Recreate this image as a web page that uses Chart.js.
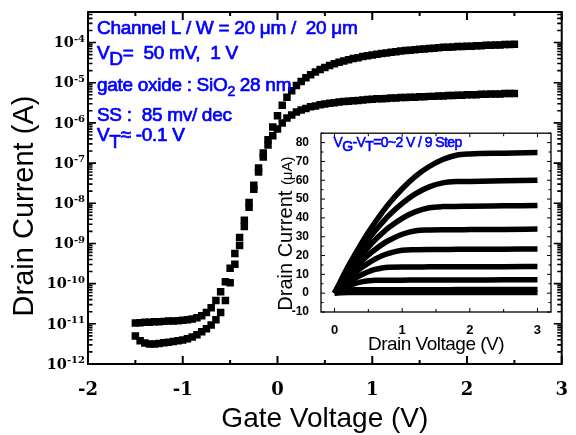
<!DOCTYPE html>
<html><head><meta charset="utf-8">
<script src="https://cdn.jsdelivr.net/npm/chart.js@4.4.1/dist/chart.umd.min.js"></script>
<style>
html,body{margin:0;padding:0;background:#fff;}
#wrap{position:relative;width:576px;height:435px;overflow:hidden;}
#main{position:absolute;left:0;top:0;}
#inset{position:absolute;left:262px;top:122px;}
</style></head><body>
<div id="wrap"><canvas id="main" width="576" height="435"></canvas><canvas id="inset" width="300" height="240"></canvas></div>
<script>
// ---------- main transfer curve data (Gate voltage in V, drain current in A) ----------
const gateVoltage = [-1.5,-1.45,-1.4,-1.35,-1.3,-1.25,-1.2,-1.15,-1.1,-1.05,
  -1,-0.95,-0.9,-0.85,-0.8,-0.75,-0.7,-0.65,-0.6,-0.55,
  -0.5,-0.45,-0.4,-0.35,-0.3,-0.25,-0.2,-0.15,-0.1,-0.05,
  0,0.05,0.1,0.15,0.2,0.25,0.3,0.35,0.4,0.45,
  0.5,0.55,0.6,0.65,0.7,0.75,0.8,0.85,0.9,0.95,
  1,1.05,1.1,1.15,1.2,1.25,1.3,1.35,1.4,1.45,
  1.5,1.55,1.6,1.65,1.7,1.75,1.8,1.85,1.9,1.95,
  2,2.05,2.1,2.15,2.2,2.25,2.3,2.35,2.4,2.45,2.5];
const currentVd1V = [1.05e-11,1.07e-11,1.10e-11,1.10e-11,1.12e-11,1.12e-11,1.15e-11,1.17e-11,1.17e-11,1.20e-11,
  1.23e-11,1.26e-11,1.32e-11,1.41e-11,1.58e-11,1.91e-11,2.51e-11,3.80e-11,6.31e-11,1.12e-10,
  2.40e-10,5.62e-10,1.41e-9,3.80e-9,1.05e-8,2.82e-8,7.59e-8,1.78e-7,3.80e-7,7.94e-7,
  1.51e-6,2.75e-6,4.37e-6,6.31e-6,8.51e-6,1.07e-5,1.32e-5,1.58e-5,1.86e-5,2.14e-5,
  2.40e-5,2.69e-5,2.95e-5,3.24e-5,3.47e-5,3.72e-5,3.98e-5,4.17e-5,4.47e-5,4.68e-5,
  4.90e-5,5.13e-5,5.37e-5,5.50e-5,5.75e-5,5.89e-5,6.17e-5,6.31e-5,6.46e-5,6.61e-5,
  6.76e-5,6.92e-5,7.08e-5,7.24e-5,7.41e-5,7.59e-5,7.59e-5,7.76e-5,7.94e-5,7.94e-5,
  8.13e-5,8.13e-5,8.32e-5,8.32e-5,8.51e-5,8.51e-5,8.71e-5,8.71e-5,8.91e-5,8.91e-5,9.12e-5];
const currentVd50mV = [5.01e-12,3.80e-12,3.31e-12,3.16e-12,3.16e-12,3.24e-12,3.39e-12,3.47e-12,3.63e-12,3.80e-12,
  3.98e-12,4.27e-12,4.68e-12,5.37e-12,6.31e-12,7.59e-12,9.33e-12,1.26e-11,1.91e-11,3.80e-11,
  1.05e-10,3.02e-10,8.91e-10,2.63e-9,7.94e-9,2.24e-8,6.03e-8,1.41e-7,2.82e-7,4.79e-7,
  7.08e-7,1.00e-6,1.32e-6,1.58e-6,1.86e-6,2.09e-6,2.29e-6,2.51e-6,2.63e-6,2.82e-6,
  2.95e-6,3.09e-6,3.16e-6,3.31e-6,3.39e-6,3.47e-6,3.55e-6,3.63e-6,3.72e-6,3.80e-6,
  3.89e-6,3.98e-6,3.98e-6,4.07e-6,4.17e-6,4.17e-6,4.27e-6,4.27e-6,4.37e-6,4.37e-6,
  4.47e-6,4.47e-6,4.57e-6,4.57e-6,4.68e-6,4.68e-6,4.79e-6,4.79e-6,4.90e-6,4.90e-6,
  5.01e-6,5.01e-6,5.01e-6,5.13e-6,5.13e-6,5.25e-6,5.25e-6,5.25e-6,5.37e-6,5.37e-6,5.37e-6];
const mainYDecades = [-12,-11,-10,-9,-8,-7,-6,-5,-4];

// ---------- inset output curve data (Drain voltage in V, drain current in uA) ----------
const drainVoltage = [0,0.1,0.2,0.3,0.4,0.5,0.6,0.7,0.8,1.0,1.2,1.4,1.6,1.8,2.0,2.5,3.0];
const idStep8 = [0,7.2,14.1,20.5,26.6,32.4,37.7,42.7,47.4,55.5,62.2,67.3,71.0,73.3,74.0,74.4,74.7];
const idStep7 = [0,6.4,12.5,18.2,23.5,28.5,33.1,37.3,41.2,47.7,52.9,56.5,58.6,59.3,59.4,59.7,60.0];
const idStep6 = [0,5.6,10.9,15.8,20.3,24.5,28.3,31.7,34.8,39.8,43.3,45.4,46.0,46.1,46.2,46.4,46.6];
const idStep5 = [0,4.8,9.2,13.3,17.0,20.3,23.2,25.8,28.0,31.3,33.2,33.6,33.7,33.7,33.8,33.9,34.1];
const idStep4 = [0,3.9,7.5,10.7,13.6,16.0,18.1,19.9,21.2,22.8,23.1,23.2,23.2,23.3,23.3,23.4,23.5];
const idStep3 = [0,3.0,5.7,7.9,9.8,11.4,12.6,13.4,13.8,13.9,13.9,14.0,14.0,14.0,14.1,14.1,14.2];
const idStep2 = [0,2.0,3.7,5.1,6.0,6.6,6.9,6.9,6.9,6.9,7.0,7.0,7.0,7.0,7.0,7.1,7.1];
const idStep1 = [0,1.0,1.6,1.8,1.8,1.8,1.8,1.8,1.8,1.8,1.8,1.8,1.8,1.9,1.9,1.9,1.9];
const idStep0 = [0,0.2,0.3,0.3,0.3,0.3,0.3,0.3,0.3,0.3,0.3,0.3,0.4,0.4,0.4,0.4,0.4];
const insetCurves = [idStep0,idStep1,idStep2,idStep3,idStep4,idStep5,idStep6,idStep7,idStep8];

const SANS = '"Liberation Sans", Arial, sans-serif';
const SERIF = '"DejaVu Serif", serif';
const BLUE = 'rgb(0,0,255)';

function drawRich(ctx, x, y, parts, color, spacing, stroke) {
  ctx.save();
  ctx.fillStyle = color; ctx.strokeStyle = color;
  ctx.textAlign = 'left'; ctx.textBaseline = 'alphabetic';
  ctx.lineJoin = 'round';
  if (spacing !== undefined) ctx.letterSpacing = spacing;
  for (const p of parts) {
    ctx.font = (p.w || 'normal') + ' ' + p.s + 'px ' + SANS;
    ctx.fillText(p.t, x, y + (p.dy || 0));
    if (stroke) { ctx.lineWidth = stroke; ctx.strokeText(p.t, x, y + (p.dy || 0)); }
    x += ctx.measureText(p.t).width;
  }
  ctx.restore();
}

const mainDecor = {
  id: 'mainDecor',
  afterDraw(chart) {
    const ctx = chart.ctx, a = chart.chartArea, xs = chart.scales.x, ys = chart.scales.y;
    ctx.save();
    ctx.strokeStyle = '#000';
    ctx.lineWidth = 2;
    ctx.strokeRect(a.left, a.top, a.right - a.left, a.bottom - a.top);
    // x ticks (inward, bottom and top)
    ctx.lineWidth = 2;
    ctx.beginPath();
    for (let v = xs.min; v <= xs.max + 1e-9; v += 0.5) {
      const px = xs.getPixelForValue(v);
      const len = Math.abs(v - Math.round(v)) < 1e-6 ? 8 : 4;
      ctx.moveTo(px, a.bottom); ctx.lineTo(px, a.bottom - len);
      ctx.moveTo(px, a.top); ctx.lineTo(px, a.top + len);
    }
    ctx.stroke();
    // y ticks (log, inward, left and right)
    ctx.lineWidth = 1.6;
    ctx.beginPath();
    for (const n of mainYDecades) {
      for (let k = 1; k <= 9; k++) {
        const val = k * Math.pow(10, n);
        if (val > ys.max * 1.0001) break;
        const py = ys.getPixelForValue(val);
        const len = k === 1 ? 8 : 4.5;
        ctx.moveTo(a.left, py); ctx.lineTo(a.left + len, py);
        ctx.moveTo(a.right, py); ctx.lineTo(a.right - len, py);
      }
    }
    ctx.stroke();
    // y tick labels 10^n
    ctx.fillStyle = '#000';
    ctx.textBaseline = 'middle';
    ctx.textAlign = 'left';
    for (const n of mainYDecades) {
      const py = ys.getPixelForValue(Math.pow(10, n));
      const sup = String(n);
      ctx.font = 'bold 10px ' + SERIF;
      const ws = ctx.measureText(sup).width;
      ctx.font = 'bold 14.5px ' + SERIF;
      const wb = ctx.measureText('10').width;
      const xr = a.left - 3;
      ctx.fillText('10', xr - ws - wb, py + 1);
      ctx.font = 'bold 10px ' + SERIF;
      ctx.fillText(sup, xr - ws, py - 3.5);
    }
    // axis titles
    ctx.font = '28px ' + SANS;
    ctx.textAlign = 'center';
    ctx.textBaseline = 'alphabetic';
    ctx.fillText('Gate Voltage (V)', (a.left + a.right) / 2, a.bottom + 63);
    ctx.save();
    ctx.translate(a.left - 55, (a.top + a.bottom) / 2 + 18);
    ctx.rotate(-Math.PI / 2);
    ctx.font = '29px ' + SANS;
    ctx.fillText('Drain Current (A)', 0, 0);
    ctx.restore();
    ctx.restore();
    // annotations
    const x0 = a.left + 9;
    const ls = '-0.3px', sw = 0.7;
    drawRich(ctx, x0, a.top + 22, [{t:'Channel L / W = 20 \u03bcm /  20 \u03bcm', s:19}], BLUE, ls, sw);
    drawRich(ctx, x0, a.top + 46.5, [{t:'V', s:19},{t:'D', s:19, dy:6.5},{t:'=  50 mV,  1 V', s:19}], BLUE, ls, sw);
    drawRich(ctx, x0, a.top + 78.5, [{t:'gate oxide : SiO', s:19},{t:'2', s:14, dy:5},{t:' 28 nm', s:19}], BLUE, ls, sw);
    drawRich(ctx, x0, a.top + 108.5, [{t:'SS :  85 mv/ dec', s:19}], BLUE, ls, sw);
    drawRich(ctx, x0, a.top + 129, [{t:'V', s:19},{t:'T', s:19, dy:7},{t:'\u2248 -0.1 V', s:19}], BLUE, ls, sw);
  }
};

new Chart(document.getElementById('main'), {
  type: 'scatter',
  data: {
    datasets: [
      { label: 'VD = 1 V', data: gateVoltage.map((v, i) => ({x: v, y: currentVd1V[i]})),
        pointStyle: 'rect', pointRadius: 5.3, backgroundColor: '#000', borderColor: '#000', borderWidth: 0 },
      { label: 'VD = 50 mV', data: gateVoltage.map((v, i) => ({x: v, y: currentVd50mV[i]})),
        pointStyle: 'rect', pointRadius: 5.3, backgroundColor: '#000', borderColor: '#000', borderWidth: 0 }
    ]
  },
  options: {
    responsive: false, animation: false, devicePixelRatio: 1,
    layout: { padding: { left: 0, right: 4, top: 12, bottom: 0 } },
    plugins: { legend: { display: false }, tooltip: { enabled: false } },
    scales: {
      x: { type: 'linear', min: -2, max: 3,
        grid: { display: false }, border: { display: false },
        ticks: { stepSize: 1, padding: 8, color: '#000', includeBounds: false,
          font: { family: SERIF, weight: 'bold', size: 18 } },
        afterFit(s) { s.height = 71; } },
      y: { type: 'logarithmic', min: 1e-12, max: 5.75e-4,
        grid: { display: false }, border: { display: false },
        ticks: { display: false },
        afterFit(s) { s.width = 88; } }
    }
  },
  plugins: [mainDecor]
});

const insetDecor = {
  id: 'insetDecor',
  beforeDraw(chart) {
    const ctx = chart.ctx, a = chart.chartArea;
    ctx.save(); ctx.fillStyle = '#fff';
    ctx.fillRect(a.left, a.top, a.right - a.left, a.bottom - a.top);
    ctx.restore();
  },
  afterDraw(chart) {
    const ctx = chart.ctx, a = chart.chartArea, xs = chart.scales.x, ys = chart.scales.y;
    ctx.save();
    ctx.strokeStyle = '#000';
    ctx.lineWidth = 1.3;
    ctx.strokeRect(a.left, a.top, a.right - a.left, a.bottom - a.top);
    ctx.lineWidth = 1;
    ctx.beginPath();
    for (let v = 0; v <= 3 + 1e-9; v += 0.5) {
      const px = xs.getPixelForValue(v);
      const len = Math.abs(v - Math.round(v)) < 1e-6 ? 4 : 3;
      ctx.moveTo(px, a.bottom); ctx.lineTo(px, a.bottom - len);
      ctx.moveTo(px, a.top); ctx.lineTo(px, a.top + len);
    }
    for (let v = -10; v <= 85 + 1e-9; v += 5) {
      const py = ys.getPixelForValue(v);
      const len = v % 10 === 0 ? 4 : 2.5;
      ctx.moveTo(a.left, py); ctx.lineTo(a.left + len, py);
      ctx.moveTo(a.right, py); ctx.lineTo(a.right - len, py);
    }
    ctx.stroke();
    // titles
    ctx.fillStyle = '#000';
    ctx.textBaseline = 'alphabetic';
    ctx.textAlign = 'center';
    ctx.letterSpacing = '-0.5px';
    ctx.font = '19px ' + SANS;
    ctx.fillText('Drain Voltage (V)', (a.left + a.right) / 2, a.bottom + 38);
    ctx.save();
    ctx.translate(a.left - 29.5, (a.top + a.bottom) / 2 + 11);
    ctx.rotate(-Math.PI / 2);
    ctx.textAlign = 'left';
    ctx.letterSpacing = '0px';
    ctx.font = '20px ' + SANS;
    const w1 = ctx.measureText('Drain Current ').width;
    ctx.font = '15px ' + SANS;
    const w2 = ctx.measureText('(\u03bcA)').width;
    const sx = -(w1 + w2) / 2;
    ctx.font = '20px ' + SANS;
    ctx.fillText('Drain Current ', sx, 0);
    ctx.font = '15px ' + SANS;
    ctx.fillText('(\u03bcA)', sx + w1, 0);
    ctx.restore();
    ctx.restore();
    drawRich(ctx, a.left + 12.5, a.top + 14,
      [{t:'V', s:14},{t:'G', s:14, dy:4},{t:'-V', s:14},{t:'T', s:14, dy:4},{t:'=0~2 V / 9 Step', s:14}], BLUE, '-0.6px', 0.6);
  }
};

new Chart(document.getElementById('inset'), {
  type: 'scatter',
  data: {
    datasets: insetCurves.map((c, i) => ({
      label: 'step ' + i,
      data: drainVoltage.map((v, j) => ({x: v, y: c[j]})),
      showLine: true, borderColor: '#000', borderWidth: 5.5, pointRadius: 0,
      cubicInterpolationMode: 'monotone', fill: false
    }))
  },
  options: {
    responsive: false, animation: false, devicePixelRatio: 1,
    layout: { padding: { left: 0, right: 11, top: 11, bottom: 0 } },
    plugins: { legend: { display: false }, tooltip: { enabled: false } },
    scales: {
      x: { type: 'linear', min: -0.2, max: 3.2,
        grid: { display: false }, border: { display: false },
        ticks: { stepSize: 1, padding: 3, color: '#000', includeBounds: false,
          font: { family: SANS, weight: 'bold', size: 13 } },
        afterFit(s) { s.height = 50; } },
      y: { type: 'linear', min: -10, max: 85,
        grid: { display: false }, border: { display: false },
        ticks: { stepSize: 10, padding: 4, color: '#000', includeBounds: false,
          font: { family: SANS, weight: 'bold', size: 12 } },
        afterFit(s) { s.width = 59; } }
    }
  },
  plugins: [insetDecor]
});
</script>
</body></html>
